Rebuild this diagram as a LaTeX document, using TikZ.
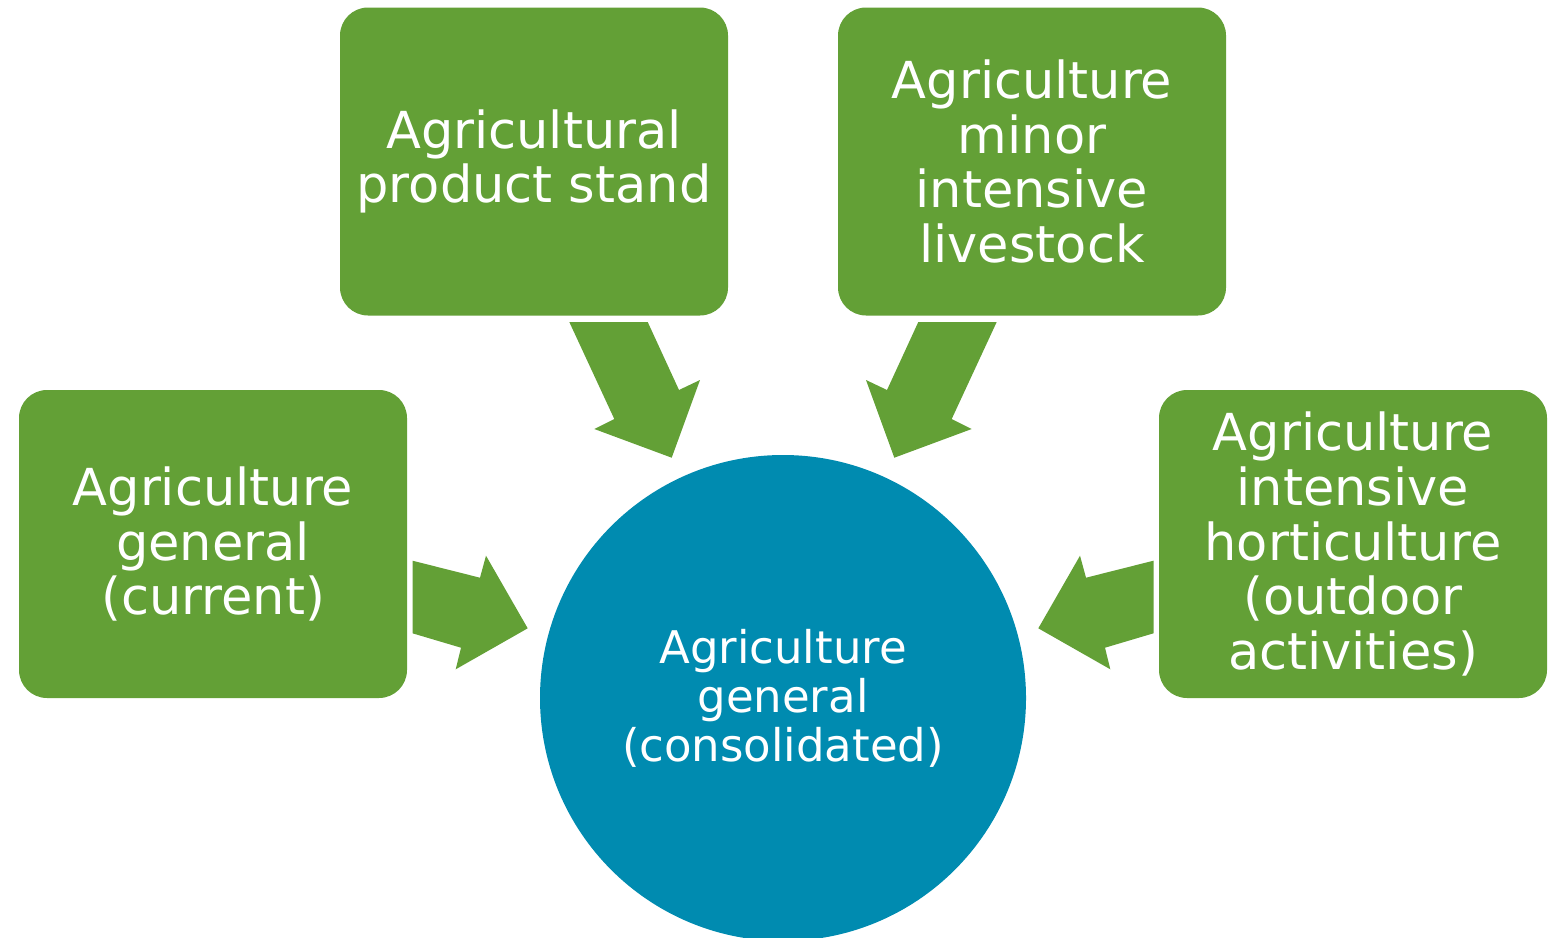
\documentclass[tikz,border=0pt]{standalone}
\usepackage{fontspec}
\setmainfont{DejaVu Sans}
\usepackage{xcolor}
\definecolor{leafgreen}{RGB}{99,160,54}
\definecolor{poolblue}{RGB}{0,139,176}
\tikzset{every picture/.style={line width=0.75pt}}
\tikzset{
  greenbox/.style={draw=none, fill=leafgreen, rounded corners=14pt, minimum width=194pt, minimum height=154pt, inner sep=0pt, align=center, text=white, font=\fontsize{25.5}{27.3}\selectfont},
  bluedisc/.style={draw=none, fill=poolblue, circle, minimum size=243pt, inner sep=0pt, align=center, text=white, font=\fontsize{22.5}{24.5}\selectfont},
  blockarrow/.style={fill=leafgreen, draw=none}
}

\begin{document}
\begin{tikzpicture}[x=0.5pt,y=0.5pt,yscale=-1,xscale=1]
\useasboundingbox (0,0) rectangle (1562,937);

%Shape: Circle
\node [bluedisc] (consolidated) at (783,698) {Agriculture\\general\\(consolidated)};

%Shape: Rounded Rect
\node [greenbox] (current) at (213,544) {Agriculture\\general\\(current)};
%Shape: Rounded Rect
\node [greenbox] (stand) at (534,161.5) {Agricultural\\product stand};
%Shape: Rounded Rect
\node [greenbox] (livestock) at (1032,161.5) {Agriculture\\minor\\intensive\\livestock};
%Shape: Rounded Rect
\node [greenbox] (horticulture) at (1353,544) {Agriculture\\intensive\\horticulture\\(outdoor\\activities)};

%Shape: Right Arrow
\fill [blockarrow] (412.5,560.7) -- (480,577.7) -- (486,555.7) -- (527.7,628.3) -- (455.7,669.3) -- (461,647.7) -- (412.5,633.3) -- cycle ;
%Shape: Right Arrow
\fill [blockarrow] (1153.5,560.7) -- (1086,577.7) -- (1080,555.7) -- (1038.3,628.3) -- (1110.3,669.3) -- (1105,647.7) -- (1153.5,633.3) -- cycle ;
%Shape: Right Arrow
\fill [blockarrow] (569.3,322) -- (647.7,322) -- (679,390) -- (700,380) -- (671.7,457.7) -- (594.3,429) -- (614.3,419) -- cycle ;
%Shape: Right Arrow
\fill [blockarrow] (996.7,322) -- (918.3,322) -- (887,390) -- (866,380) -- (894.3,457.7) -- (971.7,429) -- (951.7,419) -- cycle ;

\end{tikzpicture}
\end{document}
